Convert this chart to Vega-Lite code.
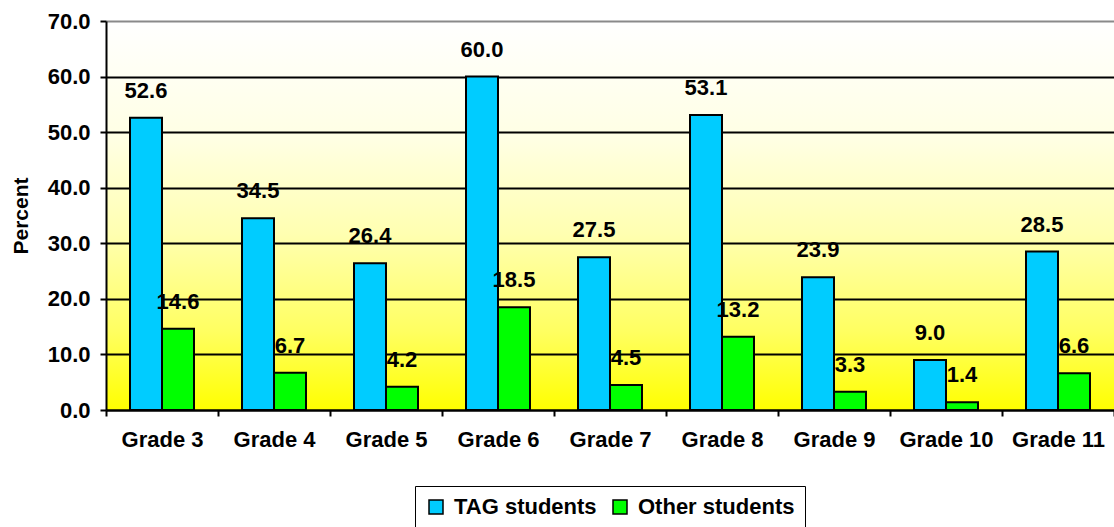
{
  "$schema": "https://vega.github.io/schema/vega-lite/v6.json",
  "width": 1008,
  "height": 389,
  "autosize": {"type": "none"},
  "padding": {"left": 106, "top": 21, "right": 0, "bottom": 117},
  "background": "white",
  "data": {
    "values": [
      {"grade": "Grade 3", "group": "TAG students", "value": 52.6},
      {"grade": "Grade 3", "group": "Other students", "value": 14.6},
      {"grade": "Grade 4", "group": "TAG students", "value": 34.5},
      {"grade": "Grade 4", "group": "Other students", "value": 6.7},
      {"grade": "Grade 5", "group": "TAG students", "value": 26.4},
      {"grade": "Grade 5", "group": "Other students", "value": 4.2},
      {"grade": "Grade 6", "group": "TAG students", "value": 60.0},
      {"grade": "Grade 6", "group": "Other students", "value": 18.5},
      {"grade": "Grade 7", "group": "TAG students", "value": 27.5},
      {"grade": "Grade 7", "group": "Other students", "value": 4.5},
      {"grade": "Grade 8", "group": "TAG students", "value": 53.1},
      {"grade": "Grade 8", "group": "Other students", "value": 13.2},
      {"grade": "Grade 9", "group": "TAG students", "value": 23.9},
      {"grade": "Grade 9", "group": "Other students", "value": 3.3},
      {"grade": "Grade 10", "group": "TAG students", "value": 9.0},
      {"grade": "Grade 10", "group": "Other students", "value": 1.4},
      {"grade": "Grade 11", "group": "TAG students", "value": 28.5},
      {"grade": "Grade 11", "group": "Other students", "value": 6.6}
    ]
  },
  "encoding": {
    "x": {
      "field": "grade",
      "type": "nominal",
      "sort": null,
      "scale": {"paddingInner": 0, "paddingOuter": 0},
      "axis": {
        "title": null,
        "labelAngle": 0,
        "tickBand": "extent",
        "labelPadding": 13,
        "domainWidth": 2
      }
    },
    "xOffset": {
      "field": "group",
      "type": "nominal",
      "sort": ["TAG students", "Other students"],
      "scale": {"paddingInner": 0, "paddingOuter": 0.75}
    },
    "y": {
      "field": "value",
      "type": "quantitative",
      "scale": {"domain": [0, 70], "nice": false},
      "axis": {
        "title": "Percent",
        "values": [0, 10, 20, 30, 40, 50, 60, 70],
        "format": ".1f",
        "grid": true,
        "gridColor": {
          "condition": {"test": "datum.value === 70", "value": "#8a8a8a"},
          "value": "#000000"
        },
        "gridWidth": 2,
        "labelPadding": 10,
        "titlePadding": 16,
        "domainWidth": 2
      }
    }
  },
  "layer": [
    {
      "mark": {"type": "bar", "stroke": "#000000", "strokeWidth": 2},
      "encoding": {
        "color": {
          "field": "group",
          "type": "nominal",
          "sort": ["TAG students", "Other students"],
          "scale": {
            "domain": ["TAG students", "Other students"],
            "range": ["#00CCFF", "#00FF00"]
          },
          "legend": {
            "title": null,
            "orient": "none",
            "legendX": 309,
            "legendY": 465,
            "direction": "horizontal",
            "strokeColor": "#000000",
            "fillColor": "#FFFFFF",
            "padding": 10,
            "symbolType": "square",
            "symbolSize": 196,
            "symbolStrokeColor": "#000000",
            "symbolStrokeWidth": 1.5,
            "symbolOpacity": 1,
            "labelOffset": 7,
            "columnPadding": 12,
            "labelFont": "Liberation Sans",
            "labelFontWeight": "bold",
            "labelFontSize": 22,
            "labelColor": "#000000",
            "labelLimit": 300
          }
        }
      }
    },
    {
      "mark": {
        "type": "text",
        "baseline": "alphabetic",
        "align": "center",
        "dy": -20,
        "font": "Liberation Sans",
        "fontWeight": "bold",
        "fontSize": 22,
        "color": "#000000"
      },
      "encoding": {
        "text": {"field": "value", "type": "quantitative", "format": ".1f"}
      }
    }
  ],
  "config": {
    "view": {
      "stroke": null,
      "fill": {
        "gradient": "linear",
        "x1": 0, "y1": 0, "x2": 0, "y2": 1,
        "stops": [
          {"offset": 0, "color": "#FFFFFF"},
          {"offset": 0.3, "color": "#FFFFE4"},
          {"offset": 0.55, "color": "#FFFFB0"},
          {"offset": 0.8, "color": "#FFFF60"},
          {"offset": 1, "color": "#FFFF00"}
        ]
      }
    },
    "axis": {
      "labelFont": "Liberation Sans",
      "labelFontWeight": "bold",
      "labelFontSize": 22,
      "labelColor": "#000000",
      "titleFont": "Liberation Sans",
      "titleFontWeight": "bold",
      "titleFontSize": 21,
      "titleColor": "#000000",
      "domainColor": "#000000",
      "tickColor": "#000000",
      "tickSize": 6,
      "tickWidth": 2
    }
  }
}
